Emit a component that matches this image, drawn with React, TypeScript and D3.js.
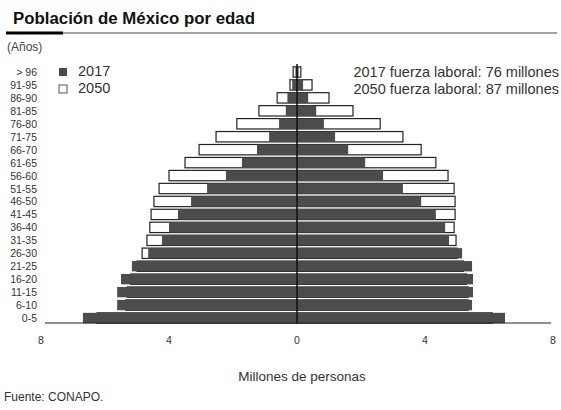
import React from "react";
import * as d3 from "d3";

const ages = ["> 96","91-95","86-90","81-85","76-80","71-75","66-70","61-65","56-60","51-55","46-50","41-45","36-40","31-35","26-30","21-25","16-20","11-15","6-10","0-5"];
const left2017 = [0.05, 0.15, 0.3, 0.35, 0.56, 0.87, 1.25, 1.72, 2.22, 2.81, 3.31, 3.72, 4.0, 4.22, 4.65, 5.16, 5.5, 5.62, 5.62, 6.69];
const left2050 = [0.12, 0.22, 0.62, 1.19, 1.88, 2.53, 3.06, 3.5, 4.0, 4.31, 4.47, 4.56, 4.6, 4.69, 4.84, 5.0, 5.2, 5.3, 5.35, 6.25];
const right2017 = [0.05, 0.19, 0.35, 0.6, 0.84, 1.19, 1.6, 2.13, 2.69, 3.31, 3.88, 4.34, 4.63, 4.75, 5.16, 5.47, 5.5, 5.5, 5.47, 6.5];
const right2050 = [0.12, 0.47, 1.0, 1.75, 2.6, 3.31, 3.88, 4.34, 4.72, 4.91, 4.94, 4.94, 4.91, 4.97, 5.0, 5.2, 5.3, 5.35, 5.35, 6.1];
const xTicks = [-8, -4, 0, 4, 8];
const tickLabels = ["8", "4", "0", "4", "8"];
const legendYears = ["2017", "2050"];
const notes = ["2017 fuerza laboral: 76 millones", "2050 fuerza laboral: 87 millones"];

const FONT = "'Liberation Sans', Arial, sans-serif";
const DARK = "#4c4c4c";

export default function App() {
  const x = d3.scaleLinear().domain([-8, 8]).range([41, 553]);
  const y = d3.scaleBand<string>().domain(ages).range([65.5, 324.5]).paddingInner(0.2).paddingOuter(0.1);
  const bh = y.bandwidth();

  return (
    <div style={{ position: "absolute", left: 0, top: 0 }}>
      <svg width={561} height={410} style={{ display: "block", background: "#fff" }} fontFamily={FONT}>
        <text x={13} y={24} fontSize={16.8} fontWeight="bold" fill="#111" textLength={242} lengthAdjust="spacingAndGlyphs">Población de México por edad</text>
        <line x1={6} x2={557} y1={33} y2={33} stroke="#444" strokeWidth={1.2} />
        <line x1={6} x2={63} y1={33} y2={33} stroke="#000" strokeWidth={3} />
        <text x={7} y={51} fontSize={12} fill="#444">(Años)</text>

        {/* 2050 bars (white, outlined) */}
        {ages.map((a, i) => (
          <g key={"w" + a}>
            <rect x={x(-left2050[i])} y={y(a)} width={x(0) - x(-left2050[i])} height={bh} fill="#fff" stroke="#222" strokeWidth={1.2} />
            <rect x={x(0)} y={y(a)} width={x(right2050[i]) - x(0)} height={bh} fill="#fff" stroke="#222" strokeWidth={1.2} />
          </g>
        ))}
        {/* 2017 bars (dark) */}
        {ages.map((a, i) => (
          <g key={"d" + a}>
            <rect x={x(-left2017[i])} y={y(a)} width={x(0) - x(-left2017[i])} height={bh} fill={DARK} />
            <rect x={x(0)} y={y(a)} width={x(right2017[i]) - x(0)} height={bh} fill={DARK} />
          </g>
        ))}

        {/* baseline and center line */}
        <line x1={x(-8) + 4} x2={x(8) - 2} y1={323} y2={323} stroke="#222" strokeWidth={1} />
        <line x1={x(0)} x2={x(0)} y1={64} y2={323} stroke="#111" strokeWidth={1.5} />

        {/* age labels */}
        {ages.map((a) => (
          <text key={"l" + a} x={37} y={(y(a) ?? 0) + bh / 2 + 4} fontSize={10.5} textAnchor="end" fill="#333">{a}</text>
        ))}

        {/* x ticks */}
        {xTicks.map((t, i) => (
          <text key={"t" + i} x={x(t)} y={344} fontSize={10.5} textAnchor="middle" fill="#333">{tickLabels[i]}</text>
        ))}
        <text x={302} y={381} fontSize={13.5} textAnchor="middle" fill="#333">Millones de personas</text>
        <text x={4} y={401} fontSize={12} fill="#333">Fuente: CONAPO.</text>

        {/* legend */}
        {legendYears.map((yr, i) => (
          <g key={"lg" + yr}>
            <rect x={59} y={68 + i * 17} width={8} height={8} fill={i === 0 ? DARK : "#fff"} stroke={i === 0 ? "none" : "#555"} strokeWidth={1} />
            <text x={78} y={76 + i * 17} fontSize={14.5} fill="#333">{yr}</text>
          </g>
        ))}

        {/* notes */}
        {notes.map((n, i) => (
          <text key={"n" + i} x={559} y={77 + i * 17} fontSize={14.5} textAnchor="end" fill="#333">{n}</text>
        ))}
      </svg>
    </div>
  );
}
